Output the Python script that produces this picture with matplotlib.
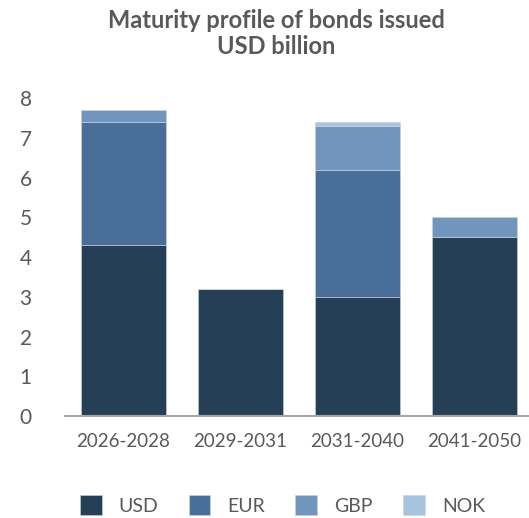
import matplotlib
matplotlib.use("Agg")
import matplotlib.pyplot as plt
import numpy as np

TEXT = "#595959"

periods = ["2026-2028", "2029-2031", "2031-2040", "2041-2050"]
usd = [4.3, 3.2, 3.0, 4.5]
eur = [3.1, 0.0, 3.2, 0.0]
gbp = [0.3, 0.0, 1.1, 0.5]
nok = [0.0, 0.0, 0.1, 0.0]

series = [("USD", usd, "#243F56"), ("EUR", eur, "#4A6E9A"),
          ("GBP", gbp, "#7295BE"), ("NOK", nok, "#A7C3DE")]

plt.rcParams["font.family"] = ["Lato", "DejaVu Sans"]

fig = plt.figure(figsize=(5.29, 5.18), dpi=100)
ax = fig.add_axes([0.1229, 0.1969, 0.8771, 0.6139])

x = np.arange(len(periods))
bottom = np.zeros(len(periods))
for name, vals, color in series:
    vals = np.array(vals)
    ax.bar(x, vals, 0.73, bottom=bottom, color=color, label=name,
           edgecolor="#c9d3de", linewidth=0.4)
    bottom += vals

ax.set_xlim(-0.5, 3.466)
ax.set_ylim(0, 8)
ax.set_yticks(range(0, 9))
ax.set_xticks(x)
ax.set_xticklabels(periods)
ax.tick_params(axis="both", length=0, colors=TEXT)
ax.tick_params(axis="x", pad=12, labelsize=13.5)
ax.tick_params(axis="y", pad=24, labelsize=15)
for s in ["top", "right", "left"]:
    ax.spines[s].set_visible(False)
ax.spines["bottom"].set_color("#a6a6a6")
ax.spines["bottom"].set_linewidth(1.5)

fig.text(0.522, 0.961, "Maturity profile of bonds issued", ha="center", va="center",
         fontsize=17, fontweight="bold", color=TEXT)
fig.text(0.522, 0.911, "USD billion", ha="center", va="center",
         fontsize=17, fontweight="bold", color=TEXT)

leg = fig.legend(loc="center", bbox_to_anchor=(0.534, 0.025), ncol=4, frameon=False,
                 prop={"size": 14}, handlelength=1.13,
                 handleheight=1.13, columnspacing=1.55, handletextpad=0.88)
for t in leg.get_texts():
    t.set_color(TEXT)

fig.savefig("out.png", dpi=100)
